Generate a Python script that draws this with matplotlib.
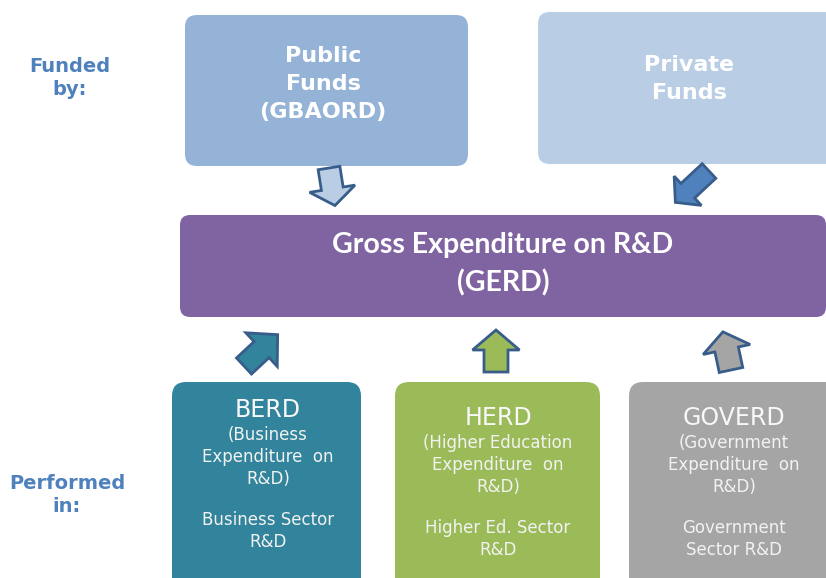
import numpy as np
import matplotlib.pyplot as plt
from matplotlib.patches import FancyBboxPatch, Polygon

# Diagram content
source_labels = ["Public\nFunds\n(GBAORD)", "Private\nFunds"]
source_colors = ["#95B3D7", "#B9CDE5"]
source_arrow_colors = ["#B9CDE5", "#4F81BD"]

gerd_lines = ["Gross Expenditure on R&D", "(GERD)"]
gerd_color = "#8064A2"

perf_titles = ["BERD", "HERD", "GOVERD"]
perf_desc = ["(Business\nExpenditure  on\nR&D)",
             "(Higher Education\nExpenditure  on\nR&D)",
             "(Government\nExpenditure  on\nR&D)"]
perf_sector = ["Business Sector\nR&D", "Higher Ed. Sector\nR&D", "Government\nSector R&D"]
perf_colors = ["#31849B", "#9BBB59", "#A5A5A5"]

side_labels = ["Funded\nby:", "Performed\nin:"]
label_color = "#4F81BD"
edge_blue = "#385D8A"

W, H = 826, 578
fig = plt.figure(figsize=(W / 100, H / 100), dpi=100)
ax = fig.add_axes([0, 0, 1, 1])
ax.set_xlim(0, W)
ax.set_ylim(H, 0)
ax.axis("off")


def box(x0, y0, x1, y1, color, r=12):
    p = FancyBboxPatch((x0, y0), x1 - x0, y1 - y0,
                       boxstyle=f"round,pad=0,rounding_size={r}",
                       fc=color, ec="none")
    ax.add_patch(p)


def block_arrow(tx, ty, angle, fc, length=40, shaft=22, head=47, head_len=18):
    # tail centre (tx, ty), angle in screen degrees (y grows downward)
    a = np.radians(angle)
    d = np.array([np.cos(a), np.sin(a)])
    n = np.array([-np.sin(a), np.cos(a)])
    L, s, h, hl = length, shaft / 2, head / 2, head_len
    local = [(0, -s), (L - hl, -s), (L - hl, -h), (L, 0),
             (L - hl, h), (L - hl, s), (0, s)]
    pts = [np.array([tx, ty]) + u * d + v * n for u, v in local]
    ax.add_patch(Polygon(pts, closed=True, fc=fc, ec=edge_blue, lw=2,
                         joinstyle="miter"))


# top boxes
box(185, 15, 468, 166, source_colors[0])
box(538, 12, 845, 164, source_colors[1])
ax.text(323, 84, source_labels[0], ha="center", va="center", color="white",
        fontsize=16, fontweight="bold", linespacing=1.5)
ax.text(689, 79, source_labels[1], ha="center", va="center", color="white",
        fontsize=16, fontweight="bold", linespacing=1.5)

# arrows from funds
block_arrow(329, 168, 81, source_arrow_colors[0], length=38, shaft=22, head=46, head_len=17)
block_arrow(709, 171, 137, source_arrow_colors[1], length=46, shaft=20, head=40, head_len=17)

# GERD box
box(180, 215, 826, 317, gerd_color, r=10)
ax.text(503, 245, gerd_lines[0], ha="center", va="center", color="white",
        fontsize=20.5, fontweight="bold", family="Lato")
ax.text(503, 283, gerd_lines[1], ha="center", va="center", color="white",
        fontsize=20.5, fontweight="bold", family="Lato")

# arrows from performers
block_arrow(244, 366, -43, perf_colors[0], length=46, shaft=22, head=46, head_len=22)
block_arrow(496, 372, -90, perf_colors[1], length=42, shaft=24, head=47, head_len=20)
block_arrow(731, 370, -102, perf_colors[2], length=39, shaft=24, head=48, head_len=18)

# bottom boxes
bx = [(172, 361), (395, 600), (629, 840)]
cx = [268, 498, 734]
ty = [410, 418, 418]
for i in range(3):
    box(bx[i][0], 382, bx[i][1], 600, perf_colors[i], r=14)
    ax.text(cx[i], ty[i], perf_titles[i], ha="center", va="center",
            color="#F8F8F8", fontsize=17)
    ax.text(cx[i], ty[i] + 47, perf_desc[i], ha="center", va="center",
            color="#F2F2F2", fontsize=12, linespacing=1.3)
    ax.text(cx[i], ty[i] + 121, perf_sector[i], ha="center", va="center",
            color="#F2F2F2", fontsize=12, linespacing=1.3)

# side labels
ax.text(70, 78, side_labels[0], ha="center", va="center", color=label_color,
        fontsize=14, fontweight="bold", linespacing=1.3)
ax.text(67, 495, side_labels[1], ha="center", va="center", color=label_color,
        fontsize=14, fontweight="bold", linespacing=1.3)

fig.savefig("out.png", dpi=100)
